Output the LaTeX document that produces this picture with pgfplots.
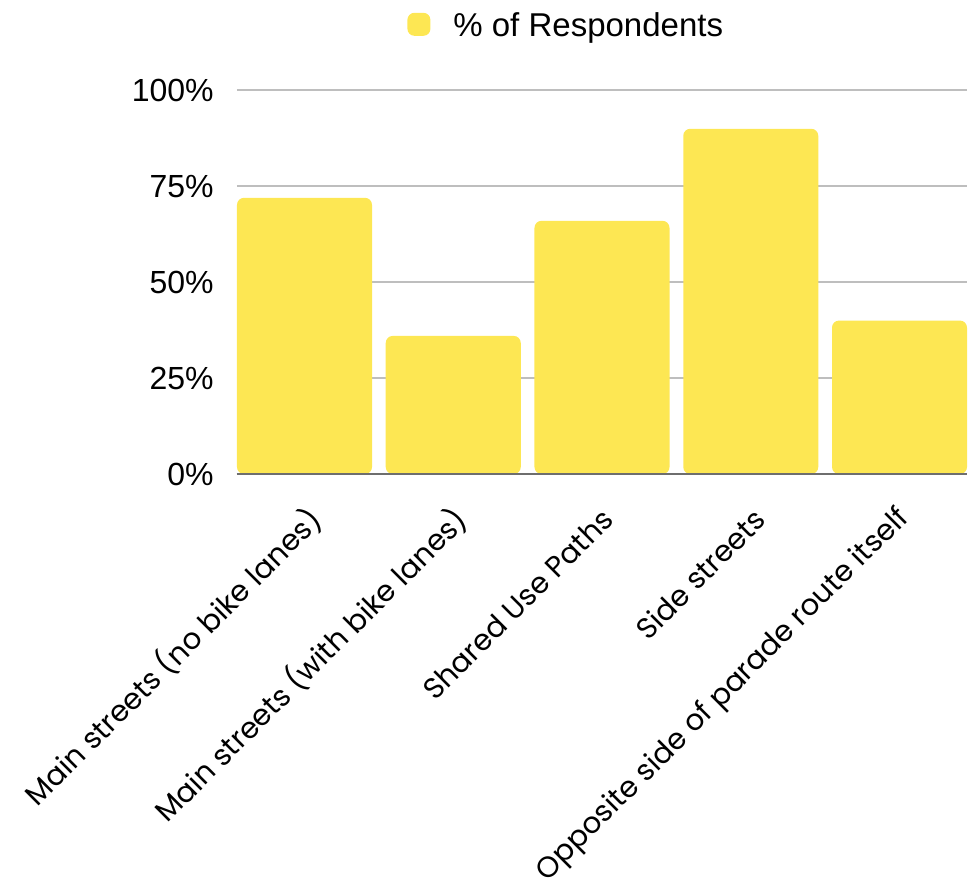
\documentclass[border=0pt]{standalone}
\usepackage{pgfplots}
\pgfplotsset{compat=1.18}
\usepackage{fontspec}
\setmainfont{Liberation Sans}
\newfontfamily\labelfont{Poppins}

\definecolor{barfill}{RGB}{253,231,83}
\definecolor{gridgray}{RGB}{190,190,190}
\definecolor{basegray}{RGB}{110,110,110}

\begin{document}
\begin{tikzpicture}
    \path[use as bounding box] (-118.5pt,-208pt) rectangle (368pt,237pt);
    \begin{axis}[
            at={(0,0)}, anchor=south west,
            scale only axis,
            width=365pt, height=191.8pt,
            ybar,
            bar width=0.9076,
            xmin=-0.4538, xmax=4.4538,
            ymin=0, ymax=100,
            axis x line*=bottom, axis y line*=left,
            y axis line style={draw=none},
            x axis line style={draw=basegray, line width=1pt},
            major tick length=0pt,
            ymajorgrids=true,
            grid style={gridgray, line width=1pt},
            ytick={0,25,50,75,100},
            yticklabels={0\%,25\%,50\%,75\%,100\%},
            yticklabel style={font=\fontsize{16}{19}\selectfont, anchor=east, inner sep=0pt, xshift=-11.5pt},
            % label anchors sit a little right of the bar centres, as in the source
            xtick={0.077,1.058,2.04,3.062,4.037},
            xticklabels={Main streets (no bike lanes),Main streets (with bike lanes),Shared Use Paths,Side streets,Opposite side of parade route itself},
            xticklabel style={font=\labelfont\fontsize{14.6}{17}\selectfont, inner sep=0pt, anchor=east, yshift=-20pt, rotate=45},
            legend style={draw=none, fill=none, at={(rel axis cs:0.2329,1.167)}, anchor=west,
                inner sep=0pt, nodes={inner sep=0pt}, column sep=11.5pt,
                font=\fontsize{16.5}{19}\selectfont},
        ]

        \addplot[
            fill=barfill, draw=none,
            rounded corners=3.5pt,
            legend image code/.code={\fill[barfill] (0pt,-4.7pt) rectangle (11.5pt,6.8pt);},
        ]
        coordinates {
                (0, 72)
                (1, 36)
                (2, 66)
                (3, 90)
                (4, 40)
            };
        \addlegendentry{\% of Respondents}

        % baseline again, over the rounded bar feet
        \draw[basegray, line width=1pt] (rel axis cs:0,0) -- (rel axis cs:1,0);
    \end{axis}
\end{tikzpicture}
\end{document}
